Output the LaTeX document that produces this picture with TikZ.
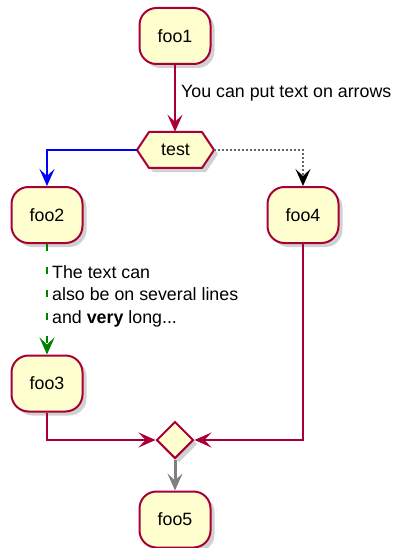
\documentclass[tikz,border=0pt]{standalone}
\usepackage{fontspec}
\setmainfont{Liberation Sans}
\usetikzlibrary{arrows.meta,shapes.geometric,shadows,calc}
\definecolor{actfill}{HTML}{FEFECE}
\definecolor{actborder}{HTML}{A80036}
\definecolor{grn}{HTML}{008000}
\begin{document}
\begin{tikzpicture}[x=1pt,y=1pt,
  font=\fontsize{17.8}{22.5}\selectfont,
  shad/.style={drop shadow={shadow xshift=4pt,shadow yshift=-4pt,opacity=0.3,fill=black!60}},
  act/.style={draw=actborder, line width=2pt, fill=actfill, rounded corners=17pt, minimum width=71pt, minimum height=56pt, inner sep=0pt, shad},
  merge/.style={draw=actborder, line width=2pt, fill=actfill, diamond, minimum width=37pt, minimum height=37pt, inner sep=0pt, shad},
  tip/.style={-{Stealth[length=17pt,width=15pt,inset=7pt]}},
  flow/.style={draw=actborder, line width=2pt, tip},
  lbl/.style={inner sep=2pt, align=left},
]
\useasboundingbox (0,0) rectangle (395,-548);
% activities
\node[act] (foo1) at (175,-36) {foo1};
\node[act] (foo2) at (47,-215) {foo2};
\node[act] (foo4) at (303,-215) {foo4};
\node[act] (foo3) at (47,-383.5) {foo3};
\node[act] (foo5) at (175,-519.5) {foo5};
% test hexagon
\coordinate (tc) at (175.5,-150);
\fill[black!60, opacity=0.3] ($(tc)+(-38.5+4,-4)$) -- ($(tc)+(-26.5+4,18-4)$) -- ($(tc)+(26.5+4,18-4)$) -- ($(tc)+(38.5+4,-4)$) -- ($(tc)+(26.5+4,-18-4)$) -- ($(tc)+(-26.5+4,-18-4)$) -- cycle;
\draw[actborder, line width=2pt, fill=actfill, line join=round] ($(tc)+(-38.5,0)$) -- ($(tc)+(-26.5,18)$) -- ($(tc)+(26.5,18)$) -- ($(tc)+(38.5,0)$) -- ($(tc)+(26.5,-18)$) -- ($(tc)+(-26.5,-18)$) -- cycle;
\node[minimum width=77pt, minimum height=36pt, inner sep=0pt] (test) at (tc) {test};
% merge
\node[merge] (m) at (175,-440) {};
% connectors
\draw[flow] (foo1.south) -- (foo1.south |- test.north);
\node[lbl, anchor=west] (l1) at (179,-93) {You can put text on arrows};
\draw[blue, line width=2pt, tip] (test.west) -| (foo2.north);
\draw[black!60, line width=1.6pt, dash pattern=on 1.6pt off 2.4pt, -{Stealth[length=17pt,width=15pt,inset=7pt,color=black]}] (test.east) -| (foo4.north);
\draw[grn, line width=2pt, dash pattern=on 7pt off 16pt, tip] (foo2.south) -- (foo3.north);
\node[lbl, anchor=west] (l2) at (50,-296) {The text can\\also be on several lines\\and \textbf{very} long...};
\draw[flow] (foo3.south) |- (m.west);
\draw[flow] (foo4.south) |- (m.east);
\draw[gray, line width=3pt, tip] (m.south) -- (foo5.north);
\end{tikzpicture}
\end{document}
